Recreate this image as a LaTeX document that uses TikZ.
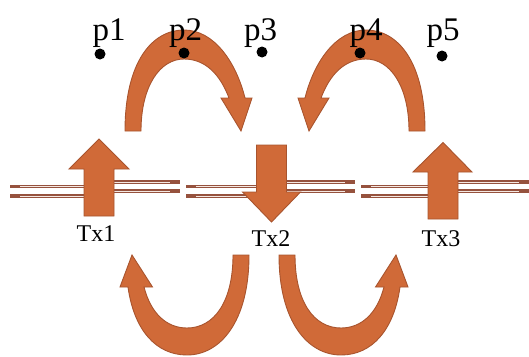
\documentclass[tikz,border=0pt]{standalone}
\usepackage{fontspec}
\setmainfont{Liberation Serif}
\definecolor{arrfill}{RGB}{208,106,56}
\definecolor{arredge}{RGB}{168,84,46}
\definecolor{wire}{RGB}{150,82,62}
\definecolor{wirehi}{RGB}{245,232,226}
\begin{document}
\begin{tikzpicture}[x=1pt,y=-1pt,
  blockarrow/.style={fill=arrfill,draw=arredge,line width=0.9pt,line join=miter},
  conductor/.style={draw=wire,line width=3.6pt},
  highlight/.style={draw=wirehi,line width=1pt},
  plabel/.style={font=\fontsize{33}{33}\selectfont,inner sep=0pt,anchor=base},
  txlabel/.style={font=\fontsize{24}{24}\selectfont,inner sep=0pt,anchor=base},
  pdot/.style={circle,fill=black,inner sep=0pt,minimum size=11pt}]
\useasboundingbox (0,0) rectangle (529,356);
% transmission lines
\foreach \s/\c/\e in {10/99/180, 186/271.5/355, 361/443/529} {
  \foreach \yl/\yr in {186.3/181.7, 196/190.7} {
    \draw[conductor] (\s,\yl) -- (\c,\yl);
    \draw[conductor] (\c,\yr) -- (\e,\yr);
    \draw[highlight] (\s+10,\yl+0.4) -- (\c,\yl+0.4);
    \draw[highlight] (\c,\yr+0.4) -- (\e-10,\yr+0.4);
  }
}
% straight block arrows
\draw[blockarrow] (84,216) -- (84,169) -- (69,169) -- (99,139) -- (129,169) -- (114,169) -- (114,216) -- cycle;
\draw[blockarrow] (256.5,145) -- (286.5,145) -- (286.5,192) -- (300.5,192) -- (271.5,222) -- (242.5,192) -- (256.5,192) -- cycle;
\draw[blockarrow] (428,219) -- (428,172) -- (413,172) -- (443,142.5) -- (472,172) -- (458,172) -- (458,219) -- cycle;
% top curved arrows
\draw[blockarrow] (125,131) .. controls (125,62) and (152,30) .. (184,30) .. controls (214,30) and (236,62) .. (245,98) -- (252,98) -- (241,131) -- (221,98) -- (229,98) .. controls (220,74) and (205,59) .. (184,59) .. controls (160,59) and (141,86) .. (141,131) -- cycle;
\draw[blockarrow] (425,131) .. controls (425,62) and (398,30) .. (366,30) .. controls (336,30) and (314,62) .. (305,98) -- (298,98) -- (309,131) -- (329,98) -- (321,98) .. controls (330,74) and (345,59) .. (366,59) .. controls (390,59) and (409,86) .. (409,131) -- cycle;
% bottom curved arrows
\draw[blockarrow] (249,255) .. controls (249,322) and (220,355) .. (187,355) .. controls (156,355) and (134,330) .. (128,287) -- (120,287) -- (132,255) -- (152.5,287) -- (144,287) .. controls (151,314) and (167,328) .. (187,328) .. controls (214,328) and (233,302) .. (233,255) -- cycle;
\draw[blockarrow] (279,255) .. controls (279,322) and (308,355) .. (341,355) .. controls (372,355) and (394,330) .. (400,287) -- (408,287) -- (396,255) -- (375.5,287) -- (384,287) .. controls (377,314) and (361,328) .. (341,328) .. controls (314,328) and (295,302) .. (295,255) -- cycle;
% points
\node[pdot] (d1) at (100,54) {};
\node[pdot] (d2) at (184,53) {};
\node[pdot] (d3) at (262,52) {};
\node[pdot] (d4) at (360,53) {};
\node[pdot] (d5) at (442,56) {};
\node[plabel] (p1) at (109,40) {p1};
\node[plabel] (p2) at (185.5,40) {p2};
\node[plabel] (p3) at (260.5,40) {p3};
\node[plabel] (p4) at (366,40) {p4};
\node[plabel] (p5) at (443,40) {p5};
\node[txlabel] (tx1) at (96,241) {Tx1};
\node[txlabel] (tx2) at (271,246) {Tx2};
\node[txlabel] (tx3) at (441,246) {Tx3};
\end{tikzpicture}
\end{document}
